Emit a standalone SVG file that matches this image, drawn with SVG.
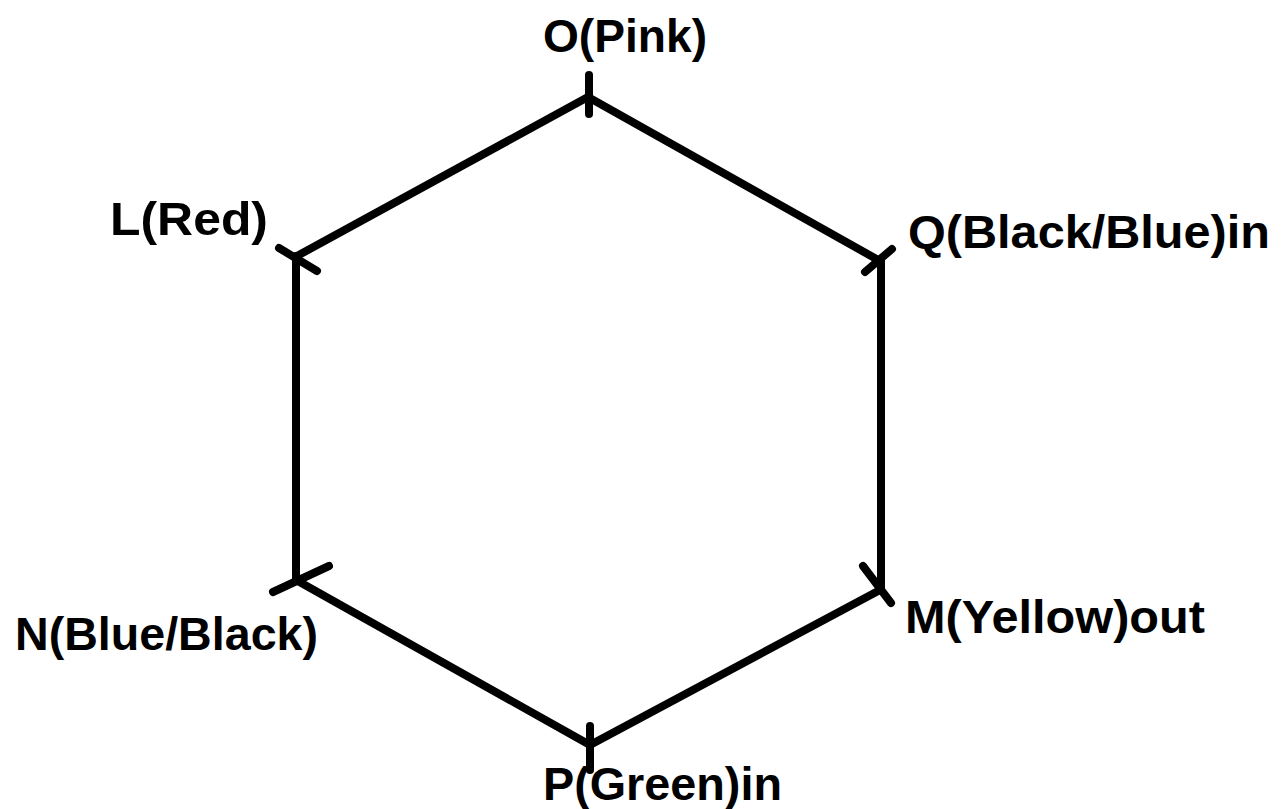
<svg xmlns="http://www.w3.org/2000/svg" width="1281" height="809" viewBox="0 0 1281 809">
  <style>
    .edge { stroke: #000; stroke-width: 8; stroke-linecap: round; fill: none; }
    .tick { stroke: #000; stroke-width: 8; stroke-linecap: round; }
    .label { font-family: "Liberation Sans", Arial, sans-serif; font-weight: bold; font-size: 47px; fill: #000; }
  </style>
  <rect width="1281" height="809" fill="#fff"/>
  <g id="connectors">
    <line class="edge" x1="588" y1="97" x2="297" y2="256"/>
    <line class="edge" x1="588" y1="97" x2="880" y2="261"/>
    <line class="edge" x1="296" y1="256" x2="296" y2="580"/>
    <line class="edge" x1="881" y1="261" x2="881" y2="590"/>
    <line class="edge" x1="296" y1="580" x2="590" y2="745"/>
    <line class="edge" x1="880" y1="590" x2="590" y2="745"/>
  </g>
  <g id="node-O">
    <line class="tick" x1="589" y1="75" x2="589" y2="114"/>
    <text class="label" x="543" y="52" textLength="164" lengthAdjust="spacingAndGlyphs">O(Pink)</text>
  </g>
  <g id="node-L">
    <line class="tick" x1="279" y1="248" x2="317" y2="271"/>
    <text class="label" x="110" y="235" textLength="158" lengthAdjust="spacingAndGlyphs">L(Red)</text>
  </g>
  <g id="node-Q">
    <line class="tick" x1="865" y1="272" x2="892" y2="249"/>
    <text class="label" x="908" y="248" textLength="362" lengthAdjust="spacingAndGlyphs">Q(Black/Blue)in</text>
  </g>
  <g id="node-N">
    <line class="tick" x1="273" y1="592" x2="329" y2="566"/>
    <text class="label" x="15" y="650" textLength="303" lengthAdjust="spacingAndGlyphs">N(Blue/Black)</text>
  </g>
  <g id="node-M">
    <line class="tick" x1="863" y1="566" x2="891" y2="603"/>
    <text class="label" x="905" y="633" textLength="300" lengthAdjust="spacingAndGlyphs">M(Yellow)out</text>
  </g>
  <g id="node-P">
    <line class="tick" x1="590" y1="726" x2="590" y2="770"/>
    <text class="label" x="543" y="800" textLength="239" lengthAdjust="spacingAndGlyphs">P(Green)in</text>
  </g>
</svg>
